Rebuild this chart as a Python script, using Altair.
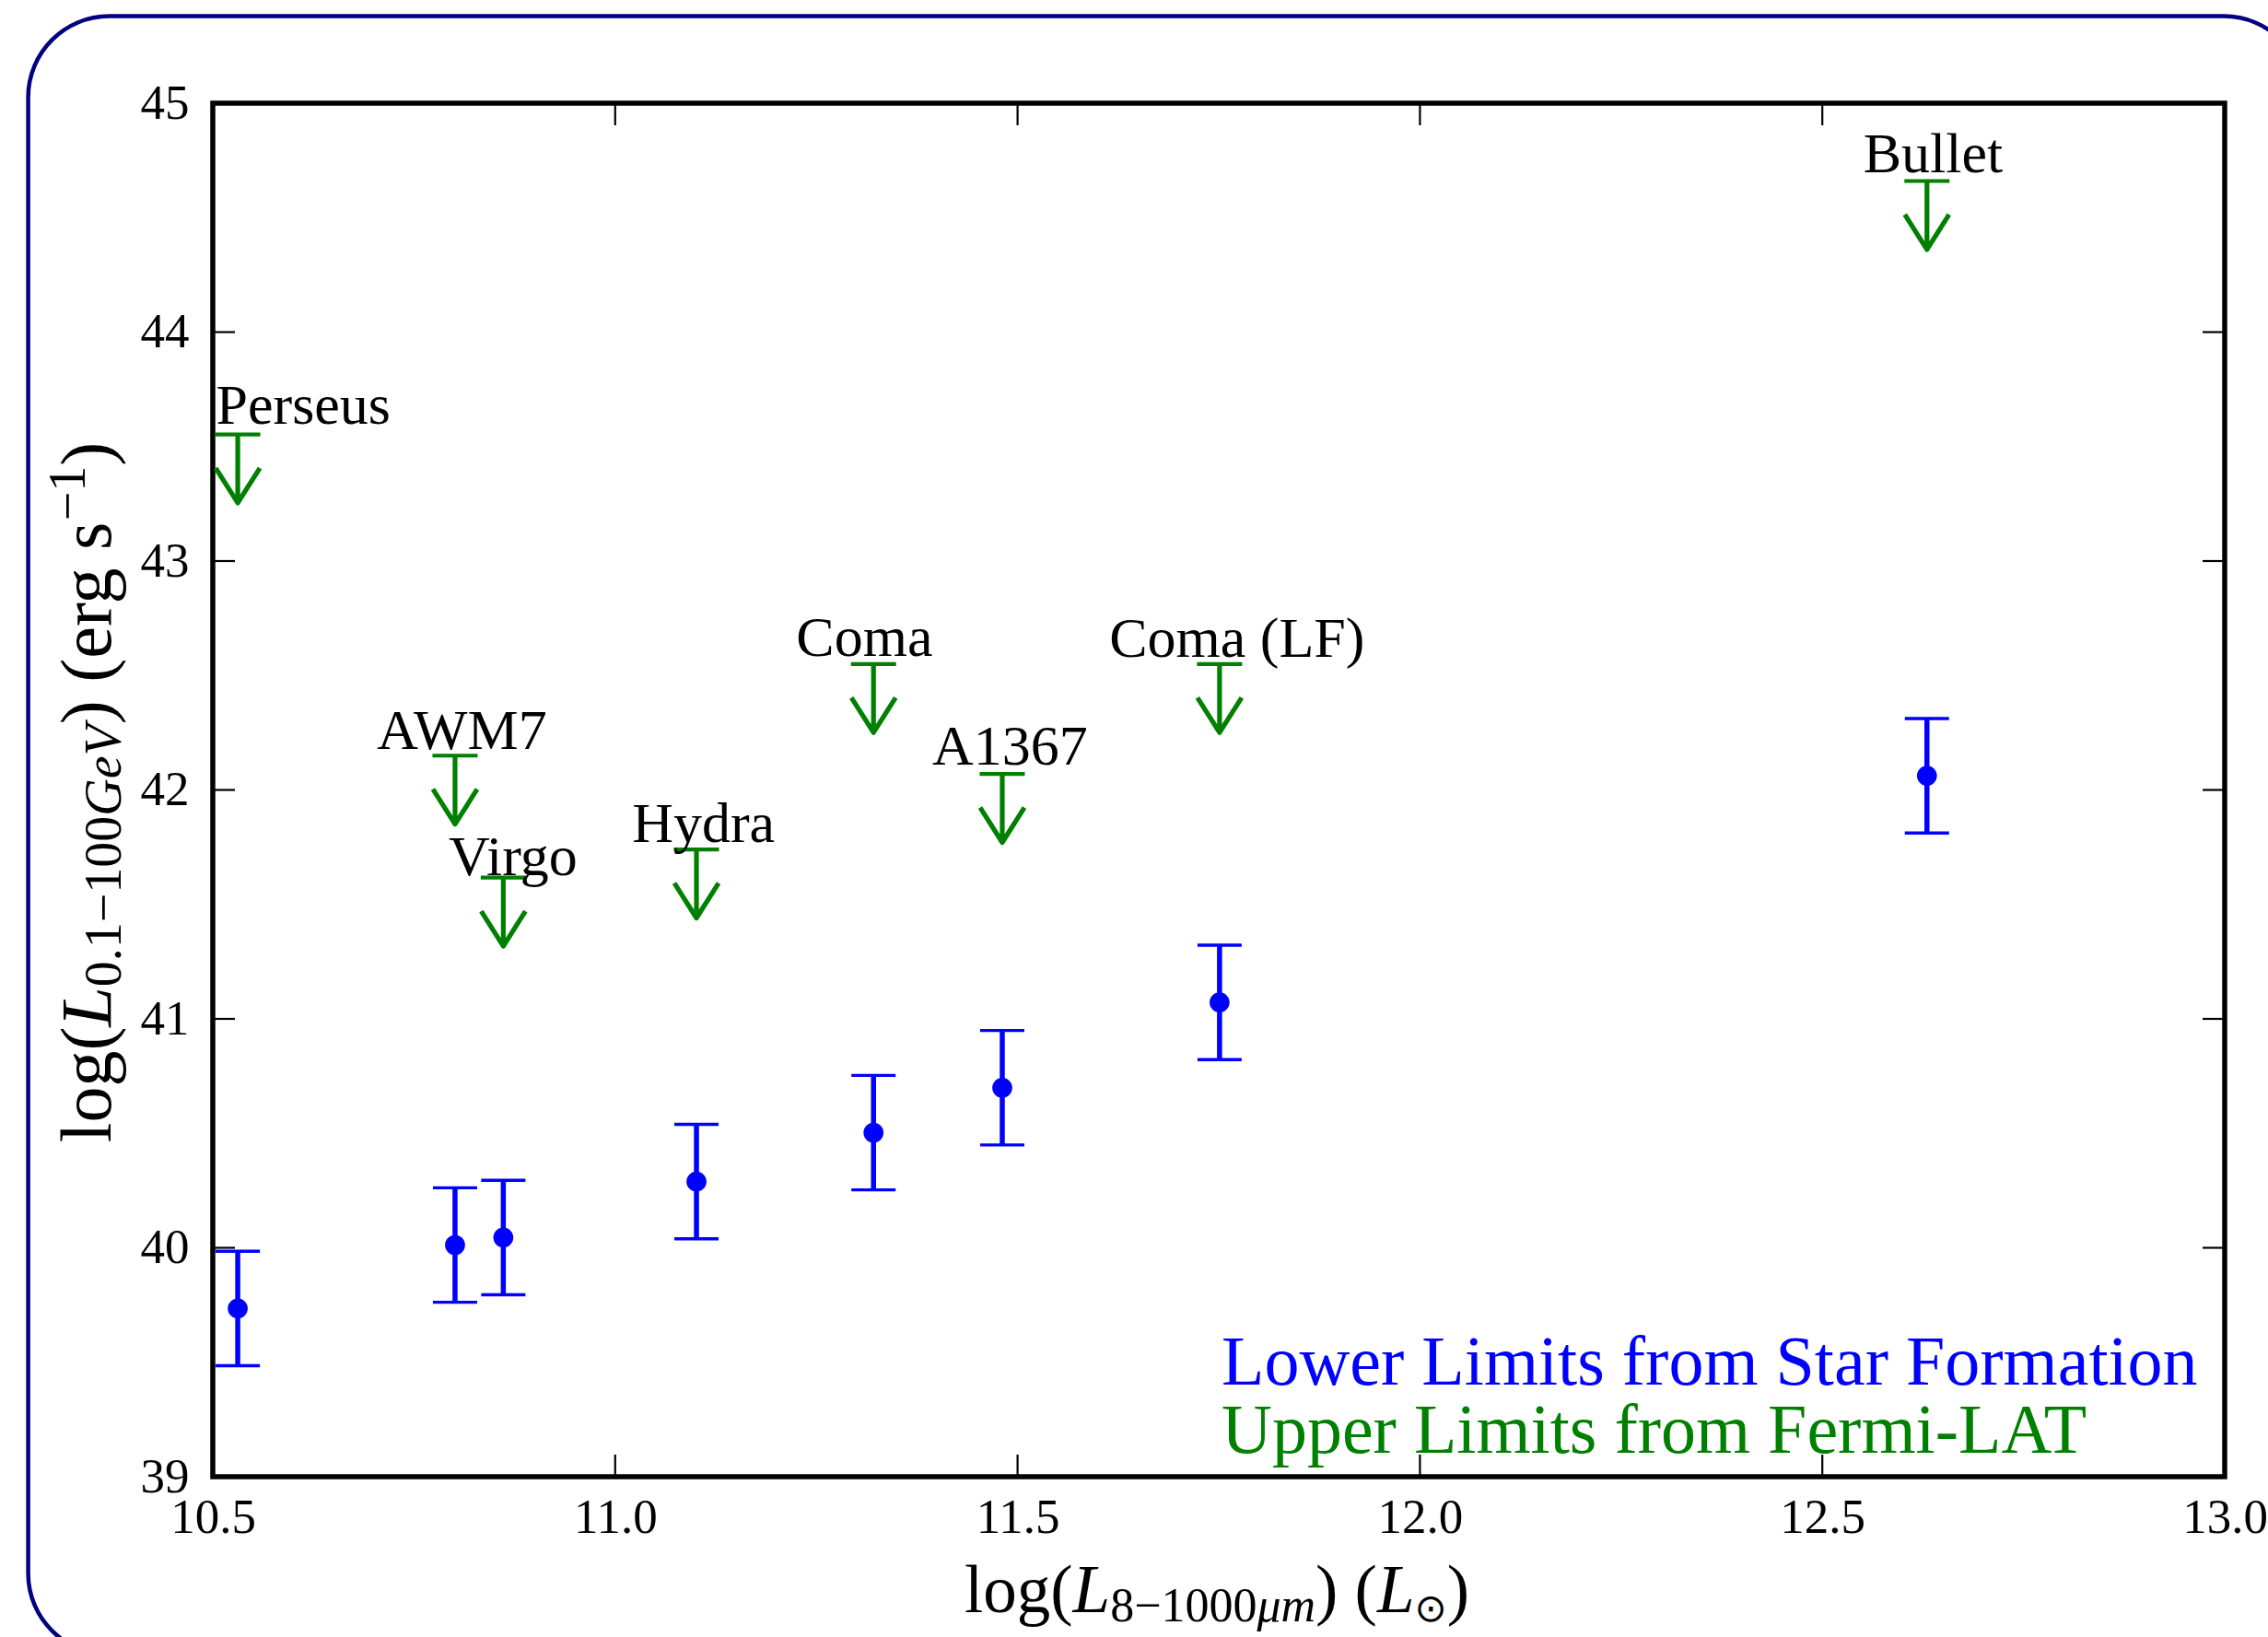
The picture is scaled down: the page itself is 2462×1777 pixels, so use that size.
import altair as alt
import pandas as pd

# ------------------------------------------------------------------ data
clusters = ["Perseus", "AWM7", "Virgo", "Hydra", "Coma", "A1367", "Coma (LF)", "Bullet"]
log_lir = [10.531, 10.801, 10.861, 11.101, 11.321, 11.481, 11.751, 12.630]
sf_lower = [39.735, 40.012, 40.045, 40.289, 40.503, 40.699, 41.072, 42.062]
sf_err = [0.25, 0.25, 0.25, 0.25, 0.25, 0.25, 0.25, 0.25]
fermi_upper = [43.553, 42.150, 41.617, 41.740, 42.550, 42.070, 42.550, 44.660]
label_x = [10.504, 10.704, 10.793, 11.021, 11.225, 11.394, 11.614, 12.551]
label_y = [43.600, 42.180, 41.628, 41.773, 42.587, 42.110, 42.580, 44.700]

x_ticks = [10.5, 11.0, 11.5, 12.0, 12.5, 13.0]
y_ticks = [39, 40, 41, 42, 43, 44, 45]

legend_lines = ["Lower Limits from Star Formation", "Upper Limits from Fermi-LAT"]

# ------------------------------------------------------------------ style
BLUE = "#0000ff"
GREEN = "#008000"
NAVY = "#000080"
SERIF = "Liberation Serif"
W, H = 2184, 1491
PAD = {"left": 231, "top": 112, "right": 47, "bottom": 174}

df = pd.DataFrame({
    "name": clusters,
    "lir": log_lir,
    "lower": sf_lower,
    "err": sf_err,
    "upper": fermi_upper,
    "lx": label_x,
    "ly": label_y,
})
df["lo"] = df["lower"] - df["err"]
df["hi"] = df["lower"] + df["err"]

xs = alt.Scale(domain=[10.5, 13.0], nice=False, zero=False)
ys = alt.Scale(domain=[39, 45], nice=False, zero=False)
axis_common = dict(title=None, labelFont=SERIF, labelFontSize=53, labelColor="black",
                   ticks=False, tickSize=0, domain=False, grid=False,
                   labelFlush=False, labelOverlap=False)
xaxis = alt.Axis(values=x_ticks, format=".1f", labelPadding=18, **axis_common)
yaxis = alt.Axis(values=y_ticks, format="d", labelPadding=26, **axis_common)


def X(f):
    return alt.X(f, type="quantitative", scale=xs, axis=xaxis)


def Y(f):
    return alt.Y(f, type="quantitative", scale=ys, axis=yaxis)


base = alt.Chart(df)

stems = base.mark_rule(color=BLUE, strokeWidth=5.5).encode(x=X("lir"), y=Y("lo"), y2=alt.Y2("hi"))
cap_lo = base.mark_tick(color=BLUE, orient="horizontal", size=48, thickness=3.4, opacity=1).encode(
    x=X("lir"), y=Y("lo"))
cap_hi = base.mark_tick(color=BLUE, orient="horizontal", size=48, thickness=3.4, opacity=1).encode(
    x=X("lir"), y=Y("hi"))
dots = base.mark_circle(color=BLUE, size=470, opacity=1).encode(x=X("lir"), y=Y("lower"))

ARROW = "M 0 0 L 0 3.1 M -1 1.52 L 0 3.1 L 1 1.52"
g_cap = base.mark_tick(color=GREEN, orient="horizontal", size=49, thickness=4.2, opacity=1).encode(
    x=X("lir"), y=Y("upper"))
g_arrow = base.mark_point(shape=ARROW, size=2304, filled=False, color=GREEN, strokeWidth=5.2,
                          opacity=1, strokeJoin="round").encode(x=X("lir"), y=Y("upper"))

labels = base.mark_text(align="left", baseline="alphabetic", font=SERIF, fontSize=62,
                        color="black").encode(x=X("lx"), y=Y("ly"), text="name:N")

# inward ticks on all four sides
ytk = alt.Chart(pd.DataFrame({"v": y_ticks}))
xtk = alt.Chart(pd.DataFrame({"v": x_ticks}))
TL = 24
tick_l = ytk.mark_rule(color="black", strokeWidth=2.2).encode(y=Y("v"), x=alt.value(0), x2=alt.value(TL))
tick_r = ytk.mark_rule(color="black", strokeWidth=2.2).encode(y=Y("v"), x=alt.value(W - TL), x2=alt.value(W))
tick_b = xtk.mark_rule(color="black", strokeWidth=2.2).encode(x=X("v"), y=alt.value(H - TL), y2=alt.value(H))
tick_t = xtk.mark_rule(color="black", strokeWidth=2.2).encode(x=X("v"), y=alt.value(0), y2=alt.value(TL))

one = pd.DataFrame({"k": [0]})

# rounded slide border
border = alt.Chart(one).mark_rect(fillOpacity=0, stroke=NAVY, strokeWidth=4.5, cornerRadius=88).encode(
    x=alt.value(30.6 - PAD["left"]), x2=alt.value(2502 - PAD["left"]),
    y=alt.value(17.6 - PAD["top"]), y2=alt.value(1796 - PAD["top"]))

# legend-like annotations
leg1 = alt.Chart(one).mark_text(text=legend_lines[0], align="left", baseline="alphabetic", font=SERIF,
                                fontSize=76, color=BLUE).encode(x=alt.value(1095), y=alt.value(1391))
leg2 = alt.Chart(one).mark_text(text=legend_lines[1], align="left", baseline="alphabetic", font=SERIF,
                                fontSize=76, color=GREEN).encode(x=alt.value(1095), y=alt.value(1465))

# ------------------------------------------------------------------ axis titles with sub/superscripts
REG = {'l': 278, 'o': 500, 'g': 500, '(': 333, ')': 333, ' ': 250, '0': 500, '1': 500, '8': 500,
       '.': 250, '\u2212': 564, 'e': 444, 'r': 333, 's': 389}
ITA = {'L': 556, 'G': 722, 'e': 444, 'V': 611, '\u03bc': 500, 'm': 722, 's': 389}


def tw(s, size, italic, font):
    if font != SERIF:
        return 0.838 * size * len(s)
    tab = ITA if italic else REG
    return sum(tab.get(c, 500) for c in s) / 1000.0 * size


XM, XS = 73, 52
x_title = [("log(", XM, False, SERIF, 0), ("L", XM, True, SERIF, 0),
           ("8\u22121000", XS, False, SERIF, 10), ("\u03bcm", XS, True, SERIF, 10),
           (")", XM, False, SERIF, 0), (" ", XM, False, SERIF, 0), ("(", XM, False, SERIF, 0),
           ("L", XM, True, SERIF, 0), ("\u2299", 42, False, "DejaVu Sans", 10),
           (")", XM, False, SERIF, 0)]
YM, YS = 78, 56
y_title = [("log(", YM, False, SERIF, 0), ("L", YM, True, SERIF, 0),
           ("0.1\u2212100", YS, False, SERIF, 11), ("GeV", YS, True, SERIF, 11),
           (")", YM, False, SERIF, 0), (" ", YM, False, SERIF, 0), ("(erg s", YM, False, SERIF, 0),
           ("\u22121", YS, False, SERIF, -28), (")", YM, False, SERIF, 0)]

title_layers = []
# x title: centred at screen x 1321, baseline screen y 1750
tot = sum(tw(t, sz, it, f) for t, sz, it, f, _ in x_title)
cx = 1321 - PAD["left"] - tot / 2
for t, sz, it, f, sh in x_title:
    if t.strip():
        title_layers.append(alt.Chart(one).mark_text(
            text=t, align="left", baseline="alphabetic", font=f, fontSize=sz,
            fontStyle="italic" if it else "normal", color="black").encode(
            x=alt.value(cx), y=alt.value(1750 - PAD["top"] + sh)))
    cx += tw(t, sz, it, f)

# y title: rotated, centred at screen y 860, baseline screen x 120
tot = sum(tw(t, sz, it, f) for t, sz, it, f, _ in y_title)
cy = 860 - PAD["top"] + tot / 2
for t, sz, it, f, sh in y_title:
    if t.strip():
        title_layers.append(alt.Chart(one).mark_text(
            text=t, align="left", baseline="alphabetic", font=f, fontSize=sz, angle=270,
            fontStyle="italic" if it else "normal", color="black").encode(
            x=alt.value(120 - PAD["left"] + sh), y=alt.value(cy)))
    cy -= tw(t, sz, it, f)

chart = alt.layer(
    border, tick_l, tick_r, tick_b, tick_t,
    stems, cap_lo, cap_hi, dots, g_cap, g_arrow, labels, leg1, leg2, *title_layers
).properties(
    width=W, height=H,
    autosize=alt.AutoSizeParams(type="none"),
    padding=PAD,
    background="white",
).configure_view(stroke="black", strokeWidth=5.5)

chart.save("out.html", embed_options={"renderer": "svg", "actions": False})
